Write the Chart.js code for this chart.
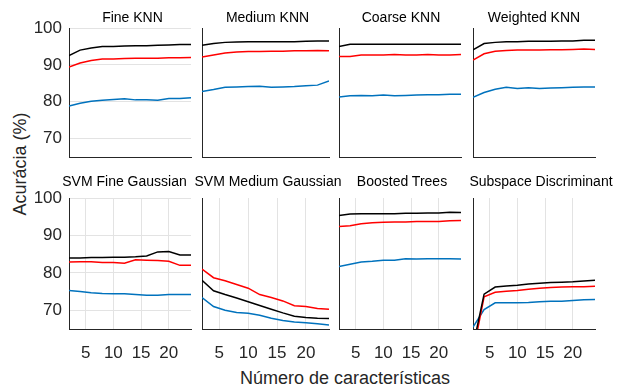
<!DOCTYPE html>
<html lang="pt">
<head>
<meta charset="UTF-8">
<title>Acurácia por número de características</title>
<script src="https://cdn.jsdelivr.net/npm/chart.js"></script>
<style>
  body { margin: 0; width: 617px; height: 387px; background: #fff; position: relative; overflow: hidden;
         font-family: "Liberation Sans", Arial, sans-serif; }
  canvas { position: absolute; }
  .title { position: absolute; font-size: 14px; line-height: 16px; color: #000; white-space: nowrap; transform: translateX(-50%); }
  .label { position: absolute; font-size: 18px; line-height: 18px; color: #262626; white-space: nowrap; }
</style>
</head>
<body>
<div class="label" style="left:19.5px; top:164px; transform:translate(-50%,-50%) rotate(-90deg);">Acurácia (%)</div>
<div class="label" style="left:345px; top:369px; transform:translateX(-50%);">Número de características</div>

<script>
// number of features (x) and tick labels
const xValues = [2, 4, 6, 8, 10, 12, 14, 16, 18, 20, 22, 24];
const xTicks = [5, 10, 15, 20];
const yTicks = [70, 80, 90, 100];

const titles = ['Fine KNN', 'Medium KNN', 'Coarse KNN', 'Weighted KNN',
                'SVM Fine Gaussian', 'SVM Medium Gaussian', 'Boosted Trees', 'Subspace Discriminant'];

const fineKnnBlack = [92.5, 94.0, 94.6, 95.0, 95.0, 95.1, 95.2, 95.2, 95.3, 95.4, 95.5, 95.5];
const fineKnnRed   = [89.4, 90.5, 91.2, 91.6, 91.6, 91.7, 91.8, 91.8, 91.8, 91.9, 91.9, 92.0];
const fineKnnBlue  = [78.8, 79.6, 80.1, 80.4, 80.6, 80.8, 80.5, 80.5, 80.4, 80.9, 80.9, 81.1];

const mediumKnnBlack = [95.3, 95.8, 96.1, 96.2, 96.3, 96.3, 96.3, 96.3, 96.3, 96.4, 96.5, 96.5];
const mediumKnnRed   = [92.1, 92.7, 93.2, 93.5, 93.6, 93.6, 93.7, 93.7, 93.8, 93.8, 93.9, 93.8];
const mediumKnnBlue  = [82.8, 83.3, 83.9, 84.0, 84.1, 84.2, 83.9, 84.0, 84.1, 84.3, 84.5, 85.6];

const coarseKnnBlack = [95.0, 95.6, 95.6, 95.6, 95.6, 95.6, 95.6, 95.6, 95.6, 95.6, 95.6, 95.6];
const coarseKnnRed   = [92.3, 92.3, 92.7, 92.7, 92.7, 92.8, 92.7, 92.7, 92.8, 92.7, 92.7, 92.8];
const coarseKnnBlue  = [81.3, 81.6, 81.7, 81.6, 81.8, 81.6, 81.7, 81.8, 81.9, 81.9, 82.0, 82.0];

const weightedKnnBlack = [94.1, 95.8, 96.1, 96.3, 96.3, 96.4, 96.4, 96.4, 96.5, 96.5, 96.7, 96.7];
const weightedKnnRed   = [91.3, 93.0, 93.7, 93.9, 94.0, 94.0, 94.0, 94.1, 94.1, 94.2, 94.3, 94.2];
const weightedKnnBlue  = [81.2, 82.5, 83.4, 83.9, 83.6, 83.8, 83.6, 83.7, 83.8, 83.9, 84.0, 84.0];

const svmFineBlack = [84.0, 84.0, 84.1, 84.1, 84.2, 84.2, 84.3, 84.5, 85.6, 85.7, 84.8, 84.8];
const svmFineRed   = [82.9, 83.0, 83.0, 82.8, 82.8, 82.6, 83.5, 83.4, 83.3, 83.1, 82.0, 82.0];
const svmFineBlue  = [75.3, 75.0, 74.7, 74.5, 74.4, 74.4, 74.2, 74.0, 74.0, 74.2, 74.2, 74.2];

const svmMediumBlack = [78.0, 75.2, 74.2, 73.3, 72.3, 71.3, 70.3, 69.3, 68.4, 68.1, 67.9, 67.8];
const svmMediumRed   = [81.0, 78.7, 77.9, 76.9, 75.9, 74.2, 73.4, 72.5, 71.2, 71.0, 70.5, 70.3];
const svmMediumBlue  = [73.4, 71.0, 70.0, 69.4, 69.2, 68.7, 67.9, 67.3, 66.9, 66.7, 66.4, 66.1];

const boostedBlack = [95.3, 95.7, 95.8, 95.8, 95.8, 95.8, 95.9, 95.9, 96.0, 96.0, 96.2, 96.1];
const boostedRed   = [92.4, 92.6, 93.1, 93.4, 93.5, 93.6, 93.6, 93.7, 93.7, 93.7, 93.9, 94.0];
const boostedBlue  = [81.7, 82.3, 82.9, 83.1, 83.4, 83.4, 83.8, 83.7, 83.8, 83.8, 83.8, 83.7];

const subspaceBlack = [60.3, 74.3, 76.2, 76.5, 76.7, 77.0, 77.2, 77.4, 77.5, 77.6, 77.8, 78.0];
const subspaceRed   = [58.6, 73.6, 74.8, 75.1, 75.3, 75.6, 75.9, 76.1, 76.2, 76.3, 76.3, 76.4];
const subspaceBlue  = [65.5, 70.2, 72.0, 72.0, 72.0, 72.1, 72.3, 72.4, 72.4, 72.6, 72.8, 72.9];

const panelSeries = [
  [fineKnnBlack, fineKnnRed, fineKnnBlue],
  [mediumKnnBlack, mediumKnnRed, mediumKnnBlue],
  [coarseKnnBlack, coarseKnnRed, coarseKnnBlue],
  [weightedKnnBlack, weightedKnnRed, weightedKnnBlue],
  [svmFineBlack, svmFineRed, svmFineBlue],
  [svmMediumBlack, svmMediumRed, svmMediumBlue],
  [boostedBlack, boostedRed, boostedBlue],
  [subspaceBlack, subspaceRed, subspaceBlue]
];
const lineColors = ['#000000', '#ff0000', '#0072bd'];

// plot area geometry (px)
const colLeft = [69, 202, 339, 473];
const colWidth = [122, 127, 122, 122];
const rowTop = [28, 198];
const rowHeight = [129, 131];
const titleBaseline = [23, 187];
const titleCenter = [132.5, 267.5, 401, 534, 124.5, 268, 402, 541];

const fontFamily = '"Liberation Sans", Arial, sans-serif';
const axisColor = '#262626';
const gridColor = '#e3e3e3';

panelSeries.forEach((series, i) => {
  const r = Math.floor(i / 4), c = i % 4;
  const padL = c === 0 ? 0 : 4, padR = 4, padT = 12;
  const padB = r === 1 ? 0 : 4;
  const yAxisW = c === 0 ? colLeft[0] : 0;
  const xAxisH = r === 1 ? 36 : 0;

  const canvas = document.createElement('canvas');
  canvas.width = padL + yAxisW + colWidth[c] + padR;
  canvas.height = padT + rowHeight[r] + xAxisH + padB;
  canvas.style.left = (colLeft[c] - yAxisW - padL) + 'px';
  canvas.style.top = (rowTop[r] - padT) + 'px';
  document.body.appendChild(canvas);

  const title = document.createElement('div');
  title.className = 'title';
  title.textContent = titles[i];
  title.style.left = titleCenter[i] + 'px';
  title.style.top = (titleBaseline[r] - 14) + 'px';
  document.body.appendChild(title);

  new Chart(canvas, {
    type: 'line',
    data: {
      datasets: series.map((vals, k) => ({
        data: xValues.map((x, j) => ({ x: x, y: vals[j] })),
        borderColor: lineColors[k],
        borderWidth: 1.5,
        pointRadius: 0,
        fill: false,
        tension: 0
      }))
    },
    options: {
      responsive: false,
      animation: false,
      events: [],
      layout: { padding: { left: padL, right: padR, top: padT, bottom: padB } },
      plugins: { legend: { display: false }, tooltip: { enabled: false } },
      scales: {
        x: {
          type: 'linear', min: 2, max: 24,
          afterBuildTicks: s => { s.ticks = xTicks.map(v => ({ value: v })); },
          afterFit: s => { s.height = xAxisH; s.paddingLeft = 0; s.paddingRight = 0; },
          ticks: { display: r === 1, color: axisColor, font: { size: 17, family: fontFamily }, padding: 14, maxRotation: 0, autoSkip: false },
          grid: { display: r === 1, drawTicks: false, color: gridColor, lineWidth: 1 },
          border: { display: true, color: axisColor, width: 1 }
        },
        y: {
          min: 65, max: 100,
          afterBuildTicks: s => { s.ticks = yTicks.map(v => ({ value: v })); },
          afterFit: s => { s.width = yAxisW; s.paddingTop = 0; s.paddingBottom = 0; },
          ticks: { display: c === 0, color: axisColor, font: { size: 17, family: fontFamily }, padding: 7 },
          grid: { display: c === 0, drawTicks: false, color: gridColor, lineWidth: 1 },
          border: { display: true, color: axisColor, width: 1 }
        }
      }
    }
  });
});
</script>
</body>
</html>
